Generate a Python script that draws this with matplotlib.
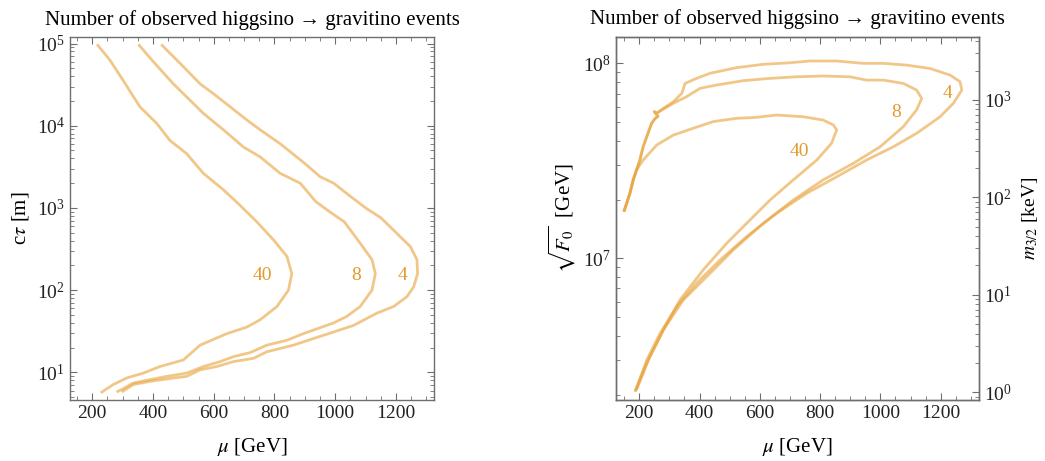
import numpy as np
import matplotlib
matplotlib.use("Agg")
import matplotlib.pyplot as plt
from matplotlib.ticker import LogLocator, LogFormatterMathtext, MultipleLocator, NullFormatter

plt.rcParams['font.family'] = ['Liberation Serif', 'DejaVu Serif']
plt.rcParams['mathtext.fontset'] = 'stix'

# ---- left panel: c*tau vs mu, contours of number of events ----
mu_40 = [216, 258, 302, 357, 412, 456, 511, 566, 632, 687, 742, 797, 841, 857, 846, 808,
         753, 709, 643, 555, 500, 423, 368, 313, 269, 228]
logct_40 = [4.99, 4.80, 4.55, 4.23, 4.03, 3.82, 3.66, 3.42, 3.22, 3.03, 2.83, 2.61, 2.41, 2.20,
            2.00, 1.80, 1.64, 1.55, 1.47, 1.33, 1.15, 1.07, 0.99, 0.93, 0.85, 0.75]

mu_8 = [352, 401, 467, 511, 566, 632, 698, 753, 819, 885, 935, 975, 1030, 1082, 1121, 1132,
        1121, 1082, 1038, 994, 895, 841, 775, 720, 665, 621, 566, 511, 445, 390, 335, 302, 280]
logct_8 = [4.99, 4.78, 4.51, 4.35, 4.15, 3.95, 3.74, 3.62, 3.42, 3.30, 3.08, 2.97, 2.83, 2.57,
           2.37, 2.20, 2.00, 1.80, 1.68, 1.60, 1.47, 1.39, 1.33, 1.24, 1.19, 1.13, 1.07, 0.99,
           0.95, 0.91, 0.87, 0.80, 0.76]

mu_4 = [427, 489, 555, 599, 654, 709, 753, 819, 900, 950, 995, 1050, 1100, 1150, 1200, 1247,
        1269, 1271, 1258, 1236, 1192, 1137, 1060, 994, 928, 862, 775, 731, 665, 610, 555, 511,
        467, 390, 335, 297]
logct_4 = [4.99, 4.76, 4.51, 4.39, 4.23, 4.07, 3.95, 3.78, 3.54, 3.38, 3.30, 3.14, 3.00, 2.88,
           2.70, 2.53, 2.37, 2.20, 2.04, 1.92, 1.80, 1.72, 1.57, 1.49, 1.41, 1.33, 1.25, 1.17,
           1.13, 1.07, 1.03, 0.95, 0.93, 0.89, 0.85, 0.76]

# ---- right panel: sqrt(F0) vs mu ----
left_edge_mu = [250, 262, 252, 241, 225, 213, 202, 191, 180, 169, 160, 149]
left_edge_logF = [7.752, 7.728, 7.716, 7.692, 7.624, 7.572, 7.504, 7.453, 7.402, 7.333, 7.290, 7.239]

muF_4 = [186, 225, 269, 324, 390, 468, 556, 656, 755, 855, 954, 1043, 1120, 1198, 1242, 1270,
         1264, 1231, 1164, 1087, 1010, 943, 855, 766, 700, 611, 523, 435, 390, 352, 341, 313,
         280, 258] + left_edge_mu
logF_4 = [6.316, 6.478, 6.615, 6.752, 6.872, 6.991, 7.111, 7.231, 7.333, 7.418, 7.504, 7.572,
          7.641, 7.726, 7.795, 7.863, 7.906, 7.940, 7.974, 7.991, 8.000, 8.000, 8.012, 8.012,
          8.003, 7.995, 7.978, 7.949, 7.923, 7.897, 7.846, 7.803, 7.769, 7.744] + left_edge_logF

muF_8 = [191, 235, 280, 346, 424, 512, 611, 711, 810, 910, 999, 1076, 1120, 1137, 1120, 1076,
         1010, 954, 899, 810, 722, 634, 545, 457, 402, 357, 313, 274, 258] + left_edge_mu
logF_8 = [6.325, 6.495, 6.632, 6.786, 6.906, 7.043, 7.179, 7.299, 7.402, 7.487, 7.572, 7.675,
          7.761, 7.820, 7.863, 7.897, 7.914, 7.914, 7.931, 7.935, 7.931, 7.923, 7.911, 7.889,
          7.872, 7.829, 7.795, 7.760, 7.744] + left_edge_logF

muF_40 = [186, 225, 280, 335, 412, 490, 556, 634, 711, 789, 838, 855, 844, 810, 744, 656, 589,
          523, 445, 379, 313, 258, 213, 191, 180, 169, 160, 149]
logF_40 = [6.316, 6.462, 6.632, 6.786, 6.940, 7.077, 7.179, 7.299, 7.402, 7.504, 7.590, 7.658,
           7.684, 7.709, 7.726, 7.735, 7.723, 7.718, 7.701, 7.667, 7.632, 7.581, 7.504, 7.453,
           7.402, 7.333, 7.290, 7.239]

labels = ['4', '8', '40']
label_left_mu = [1222, 1069, 760]
label_left_logct = [2.18, 2.18, 2.18]
label_right_mu = [1223, 1052, 731]
label_right_logF = [7.846, 7.747, 7.547]

line_col = '#E8A33A'
text_col = '#E39A2E'
frame_col = '#6e6e6e'
title = 'Number of observed higgsino \u2192 gravitino events'

M_P = 2.435e18  # reduced Planck mass, GeV


def m32_keV(sqrtF):
    return sqrtF**2 / (np.sqrt(3) * M_P) * 1e6


fig = plt.figure(figsize=(10.45, 4.61), dpi=100)
ax1 = fig.add_axes([0.067, 0.1323, 0.3483, 0.7874])
ax2 = fig.add_axes([0.5895, 0.1323, 0.3476, 0.7881])


def style(ax):
    for s in ax.spines.values():
        s.set_color(frame_col)
        s.set_linewidth(1.0)
    ax.tick_params(which='both', direction='in', color=frame_col, labelsize=14,
                   labelcolor='#222222')
    ax.tick_params(which='major', length=5, width=0.8)
    ax.tick_params(which='minor', length=3, width=0.6)


# left
for mu, lc in [(mu_40, logct_40), (mu_8, logct_8), (mu_4, logct_4)]:
    ax1.plot(mu, 10**np.array(lc), color=line_col, alpha=0.6, lw=2.0, solid_capstyle='butt')
for lab, x, ly in zip(labels, label_left_mu, label_left_logct):
    ax1.text(x, 10**ly, lab, color=text_col, fontsize=14, ha='center', va='center')
ax1.set_yscale('log')
ax1.set_xlim(127, 1325)
ax1.set_ylim(4.6, 1.2e5)
ax1.xaxis.set_major_locator(MultipleLocator(200))
ax1.xaxis.set_minor_locator(MultipleLocator(50))
ax1.yaxis.set_major_locator(LogLocator(base=10))
ax1.yaxis.set_minor_locator(LogLocator(base=10, subs=np.arange(2, 10)))
ax1.yaxis.set_major_formatter(LogFormatterMathtext())
ax1.yaxis.set_minor_formatter(NullFormatter())
style(ax1)
ax1.tick_params(which='both', top=True, right=True)
ax1.set_xlabel(r'$\mu$ [GeV]', fontsize=15, labelpad=10)
ax1.set_ylabel(r'c$\tau$ [m]', fontsize=15, labelpad=4)
ax1.set_title(title, fontsize=15, pad=9)

# right
for mu, lf in [(muF_40, logF_40), (muF_8, logF_8), (muF_4, logF_4)]:
    ax2.plot(mu, 10**np.array(lf), color=line_col, alpha=0.6, lw=2.0, solid_capstyle='butt')
for lab, x, ly in zip(labels, label_right_mu, label_right_logF):
    ax2.text(x, 10**ly, lab, color=text_col, fontsize=14, ha='center', va='center')
ax2.set_yscale('log')
ax2.set_xlim(123, 1328)
ylo, yhi = 1.875e6, 1.37e8
ax2.set_ylim(ylo, yhi)
ax2.xaxis.set_major_locator(MultipleLocator(200))
ax2.xaxis.set_minor_locator(MultipleLocator(50))
ax2.yaxis.set_major_locator(LogLocator(base=10))
ax2.yaxis.set_minor_locator(LogLocator(base=10, subs=np.arange(2, 10)))
ax2.yaxis.set_major_formatter(LogFormatterMathtext())
ax2.yaxis.set_minor_formatter(NullFormatter())
style(ax2)
ax2.tick_params(which='both', top=True, right=False)
ax2.set_xlabel(r'$\mu$ [GeV]', fontsize=15, labelpad=10)
ax2.set_ylabel(r'$\sqrt{F_0}$  [GeV]', fontsize=15, labelpad=4)
ax2.set_title(title, fontsize=15, pad=9)

ax3 = ax2.twinx()
ax3.set_yscale('log')
ax3.set_ylim(m32_keV(ylo), m32_keV(yhi))
ax3.yaxis.set_major_locator(LogLocator(base=10))
ax3.yaxis.set_minor_locator(LogLocator(base=10, subs=np.arange(2, 10)))
ax3.yaxis.set_major_formatter(LogFormatterMathtext())
ax3.yaxis.set_minor_formatter(NullFormatter())
style(ax3)
ax3.set_ylabel(r'$m_{3/2}$ [keV]', fontsize=14, labelpad=6)

fig.savefig('out.png', dpi=100)
